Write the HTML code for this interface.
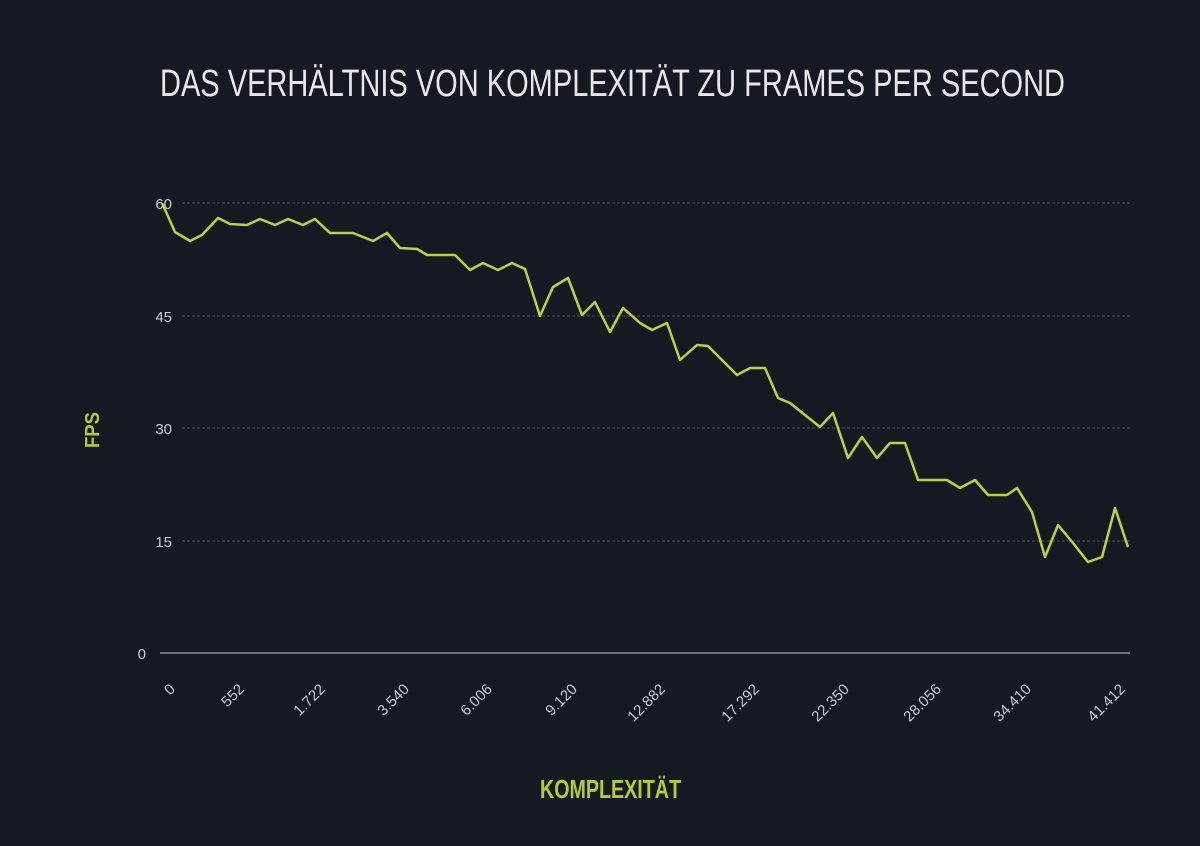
<!DOCTYPE html>
<html><head><meta charset="utf-8"><style>
html,body{margin:0;padding:0;background:#141922;}
svg{display:block}
</style></head><body>
<svg width="1200" height="846" viewBox="0 0 1200 846" xmlns="http://www.w3.org/2000/svg">
<rect width="1200" height="846" fill="#141922"/>
<text x="160" y="96" font-family="Liberation Sans, sans-serif" font-size="38" fill="#e6e8ea" textLength="905" lengthAdjust="spacingAndGlyphs">DAS VERHÄLTNIS VON KOMPLEXITÄT ZU FRAMES PER SECOND</text>
<g stroke="#3a404a" stroke-width="1.5" stroke-dasharray="3,2">
<line x1="182" y1="203" x2="1130" y2="203"/>
<line x1="182" y1="316" x2="1130" y2="316"/>
<line x1="182" y1="428" x2="1130" y2="428"/>
<line x1="182" y1="541" x2="1130" y2="541"/>
</g>
<line x1="160" y1="653" x2="1130" y2="653" stroke="#6a7078" stroke-width="2"/>
<g font-family="Liberation Sans, sans-serif" font-size="15" fill="#c8ccd2" text-anchor="end">
<text x="172" y="209">60</text>
<text x="172" y="322">45</text>
<text x="172" y="434">30</text>
<text x="172" y="547">15</text>
<text x="146" y="659">0</text>
</g>
<g font-family="Liberation Sans, sans-serif" font-size="15" fill="#c8ccd2" text-anchor="end">
<text transform="translate(176,690) rotate(-45)">0</text>
<text transform="translate(245,690) rotate(-45)">552</text>
<text transform="translate(326,690) rotate(-45)">1.722</text>
<text transform="translate(410,690) rotate(-45)">3.540</text>
<text transform="translate(493,690) rotate(-45)">6.006</text>
<text transform="translate(578,690) rotate(-45)">9.120</text>
<text transform="translate(666,690) rotate(-45)">12.882</text>
<text transform="translate(760,690) rotate(-45)">17.292</text>
<text transform="translate(850,690) rotate(-45)">22.350</text>
<text transform="translate(942,690) rotate(-45)">28.056</text>
<text transform="translate(1032,690) rotate(-45)">34.410</text>
<text transform="translate(1126,690) rotate(-45)">41.412</text>
</g>
<text transform="translate(99,430) rotate(-90)" font-family="Liberation Sans, sans-serif" font-weight="bold" font-size="20" fill="#b4cc3c" text-anchor="middle" textLength="36" lengthAdjust="spacingAndGlyphs">FPS</text>
<text x="540" y="798" font-family="Liberation Sans, sans-serif" font-weight="bold" font-size="26" fill="#b4cc3c" textLength="141" lengthAdjust="spacingAndGlyphs">KOMPLEXITÄT</text>
<polyline fill="none" stroke="#bcd048" stroke-width="2.5" stroke-linejoin="round" points="162,203 175,232 190,241 202,235 218,218 230,224 247,225 260,219 275,225 288,219 303,225 315,219 330,233 353,233 373,241 387,233 400,248 417,249 427,255 455,255 470,270 483,263 498,270 512,263 525,269 540,316 553,287 568,278 582,315 595,302 610,332 623,308 640,323 652,330 667,323 680,360 697,345 708,346 737,375 750,368 765,368 778,398 790,403 820,427 833,413 848,458 862,437 877,458 890,443 905,443 918,480 947,480 960,488 975,480 988,495 1007,495 1017,488 1032,512 1045,557 1058,525 1073,543 1088,562 1102,557 1115,508 1128,547"/>
</svg>
</body></html>
